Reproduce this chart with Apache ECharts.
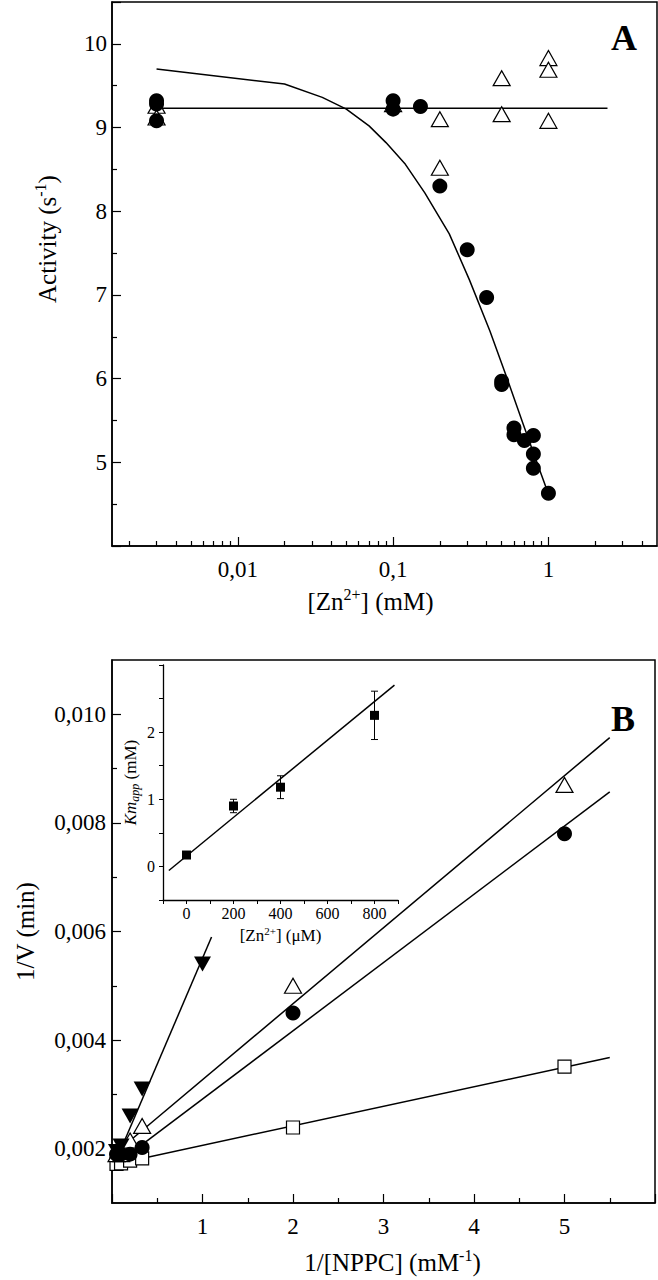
<!DOCTYPE html>
<html>
<head>
<meta charset="utf-8">
<script src="https://cdn.jsdelivr.net/npm/echarts@6/dist/echarts.min.js"></script>
<style>
  html, body { margin: 0; padding: 0; background: #fff; }
  #chart { width: 658px; height: 1280px; }
</style>
</head>
<body>
<div id="chart"></div>
<script>
  // ---- panel A : activity vs [Zn2+] (log x) ----
  var aCircles = [
    [0.003, 9.32], [0.003, 9.28], [0.003, 9.08], [0.1, 9.32], [0.1, 9.22], [0.15, 9.25],
    [0.2, 8.30], [0.3, 7.54], [0.4, 6.97], [0.5, 5.97], [0.5, 5.93], [0.6, 5.41], [0.6, 5.33],
    [0.7, 5.26], [0.8, 5.32], [0.8, 5.10], [0.8, 4.93], [1.0, 4.63]
  ]
  var aTriangles = [
    [0.003, 9.26], [0.003, 9.12], [0.1, 9.28], [0.2, 9.10], [0.2, 8.52],
    [0.5, 9.59], [0.5, 9.16], [1.0, 9.83], [1.0, 9.69], [1.0, 9.08]
  ]
  var aFlatFit = [[0.003, 9.23], [2.4, 9.23]]
  var aCurveFit = [
    [0.003, 9.70], [0.02, 9.52], [0.035, 9.36], [0.05, 9.22], [0.07, 9.02], [0.09, 8.82],
    [0.12, 8.56], [0.16, 8.22], [0.23, 7.73], [0.31, 7.18], [0.42, 6.57], [0.54, 6.01],
    [0.69, 5.45], [0.85, 4.98], [1.0, 4.62]
  ]
  var aXLabels = [0.01, 0.1, 1]
  var aXMinor = [0.002, 0.003, 0.004, 0.005, 0.006, 0.007, 0.008, 0.009,
    0.02, 0.03, 0.04, 0.05, 0.06, 0.07, 0.08, 0.09,
    0.2, 0.3, 0.4, 0.5, 0.6, 0.7, 0.8, 0.9, 2, 3, 4]

  // ---- panel B : Lineweaver-Burk ----
  var bSquares = [[0.05, 0.00172], [0.1, 0.00173], [0.2, 0.00178], [0.333, 0.00182], [2, 0.00239], [5, 0.00351]]
  var bCircles = [[0.05, 0.0019], [0.1, 0.0019], [0.2, 0.0019], [0.333, 0.00202], [2, 0.0045], [5, 0.0078]]
  var bTriangles = [[0.05, 0.0019], [0.1, 0.0019], [0.2, 0.00215], [0.333, 0.00242], [2, 0.0050], [5, 0.0087]]
  var bDownTri = [[0.05, 0.00195], [0.1, 0.00205], [0.2, 0.0026], [0.333, 0.0031], [1, 0.0054]]
  var bSquareFit = [[0.05, 0.00172], [5.5, 0.00368]]
  var bCircleFit = [[0.05, 0.00172], [5.5, 0.00857]]
  var bTriangleFit = [[0.05, 0.00194], [5.5, 0.00957]]
  var bDownTriFit = [[0.05, 0.0018], [1.1, 0.0059]]
  var bYLabels = [0.002, 0.004, 0.006, 0.008, 0.010]
  var bYMinor = [0.003, 0.005, 0.007, 0.009]

  // ---- inset : Km app vs [Zn2+] ----
  var kmZn = [0, 200, 400, 800]
  var kmVal = [0.17, 0.90, 1.18, 2.25]
  var kmErr = [0.03, 0.10, 0.17, 0.36]
  var kmFit = [[-75, -0.06], [885, 2.70]]

  var FONT = '"Liberation Serif", "Times New Roman", serif'
  var black = '#000'

  function comma (v) {
    return String(v).replace('.', ',')
  }

  var chart = echarts.init(document.getElementById('chart'), null, {renderer: 'svg'})

  var kmPoints = kmZn.map(function (z, i) { return [z, kmVal[i]] })
  var kmBars = kmZn.map(function (z, i) { return [z, kmVal[i] - kmErr[i], kmVal[i] + kmErr[i]] })

  var supRich = {
    sup: {fontFamily: FONT, fontSize: 16, color: black, verticalAlign: 'top', lineHeight: 30}
  }

  function lineSeries (data, xi, yi) {
    return {
      type: 'line', data: data, xAxisIndex: xi, yAxisIndex: yi,
      symbol: 'none', z: 2, silent: true,
      lineStyle: {color: black, width: 1.5}
    }
  }
  function dotSeries (data, xi, yi, symbol, size, open, rotate) {
    return {
      type: 'scatter', data: data, xAxisIndex: xi, yAxisIndex: yi,
      symbol: symbol, symbolSize: size, symbolRotate: rotate || 0, z: open ? 4 : 5,
      itemStyle: {color: open ? '#fff' : black, borderColor: black, borderWidth: open ? 1.2 : 0, opacity: 1}
    }
  }

  chart.setOption({
    animation: false,
    backgroundColor: '#fff',
    grid: [
      {left: 112, top: 2, width: 545, height: 544, show: true, borderColor: black, borderWidth: 1.5, backgroundColor: 'transparent'},
      {left: 112, top: 660, width: 545, height: 543, show: true, borderColor: black, borderWidth: 1.5, backgroundColor: 'transparent'},
      {left: 163, top: 665, width: 235, height: 235, show: false}
    ],
    xAxis: [
      // A main
      {
        type: 'log', logBase: 10, gridIndex: 0, min: 0.00155, max: 5, position: 'bottom',
        name: '[Zn{sup|2+}] (mM)', nameLocation: 'middle', nameGap: 40,
        nameTextStyle: {fontFamily: FONT, fontSize: 25, color: black, rich: supRich, padding: [0, 28, 0, 0]},
        axisLine: {onZero: false, lineStyle: {color: black, width: 1.5}},
        axisTick: {inside: true, length: 9, customValues: aXLabels, lineStyle: {color: black, width: 1.2}},
        axisLabel: {customValues: aXLabels, formatter: comma, margin: 12, fontFamily: FONT, fontSize: 23, color: black},
        splitLine: {show: false}, minorTick: {show: false}
      },
      // A minor ticks
      {
        type: 'log', logBase: 10, gridIndex: 0, min: 0.00155, max: 5, position: 'bottom',
        axisLine: {show: false, onZero: false},
        axisTick: {inside: true, length: 5, customValues: aXMinor, lineStyle: {color: black, width: 1.2}},
        axisLabel: {show: false}, splitLine: {show: false}
      },
      // B
      {
        type: 'value', gridIndex: 1, min: 0, max: 6, interval: 1, position: 'bottom',
        name: '1/[NPPC] (mM{sup|-1})', nameLocation: 'middle', nameGap: 44,
        nameTextStyle: {fontFamily: FONT, fontSize: 25, color: black, rich: supRich, padding: [0, 0, 0, 18]},
        axisLine: {onZero: false, lineStyle: {color: black, width: 1.5}},
        axisTick: {inside: true, length: 9, lineStyle: {color: black, width: 1.2}},
        minorTick: {show: true, splitNumber: 2, length: 5, lineStyle: {color: black, width: 1.2}},
        axisLabel: {
          margin: 12, fontFamily: FONT, fontSize: 23, color: black,
          formatter: function (v) { return (v === 0 || v === 6) ? '' : String(v) }
        },
        splitLine: {show: false}
      },
      // inset
      {
        type: 'value', gridIndex: 2, min: -100, max: 900, interval: 100, position: 'bottom',
        name: '[Zn{sup|2+}] (\u03bcM)', nameLocation: 'middle', nameGap: 25,
        nameTextStyle: {fontFamily: FONT, fontSize: 17, color: black,
          rich: {sup: {fontFamily: FONT, fontSize: 11, color: black, verticalAlign: 'top', lineHeight: 20}}},
        axisLine: {onZero: false, lineStyle: {color: black, width: 1.3}},
        axisTick: {inside: false, length: 4, lineStyle: {color: black, width: 1}},
        axisLabel: {
          margin: 5, fontFamily: FONT, fontSize: 16, color: black,
          formatter: function (v) { return (v >= 0 && v <= 800 && v % 200 === 0) ? String(v) : '' }
        },
        splitLine: {show: false}
      }
    ],
    yAxis: [
      // A
      {
        type: 'value', gridIndex: 0, min: 4, max: 10.5, interval: 1,
        name: 'Activity (s{sup|-1})', nameLocation: 'middle', nameGap: 50,
        nameTextStyle: {fontFamily: FONT, fontSize: 25, color: black, rich: supRich, padding: [0, 0, 0, 70]},
        axisLine: {onZero: false, lineStyle: {color: black, width: 1.5}},
        axisTick: {inside: true, length: 9, lineStyle: {color: black, width: 1.2}},
        minorTick: {show: true, splitNumber: 2, length: 5, lineStyle: {color: black, width: 1.2}},
        axisLabel: {
          margin: 5, fontFamily: FONT, fontSize: 23, color: black,
          formatter: function (v) { return (v >= 5 && v <= 10 && v % 1 === 0) ? String(v) : '' }
        },
        splitLine: {show: false}
      },
      // B main
      {
        type: 'value', gridIndex: 1, min: 0.001, max: 0.011,
        name: '1/V (min)', nameLocation: 'middle', nameGap: 74,
        nameTextStyle: {fontFamily: FONT, fontSize: 25, color: black},
        axisLine: {onZero: false, lineStyle: {color: black, width: 1.5}},
        axisTick: {inside: true, length: 9, customValues: bYLabels, lineStyle: {color: black, width: 1.2}},
        axisLabel: {
          customValues: bYLabels, margin: 6, fontFamily: FONT, fontSize: 23, color: black,
          formatter: function (v) { return v.toFixed(3).replace('.', ',') }
        },
        splitLine: {show: false}
      },
      // B minor ticks
      {
        type: 'value', gridIndex: 1, min: 0.001, max: 0.011, position: 'left',
        axisLine: {show: false, onZero: false},
        axisTick: {inside: true, length: 5, customValues: bYMinor, lineStyle: {color: black, width: 1.2}},
        axisLabel: {show: false}, splitLine: {show: false}
      },
      // inset
      {
        type: 'value', gridIndex: 2, min: -0.5, max: 3, interval: 0.5,
        name: '{it|Km}{sub|app} (mM)', nameLocation: 'middle', nameGap: 22,
        nameTextStyle: {fontFamily: FONT, fontSize: 17, color: black,
          rich: {
            it: {fontFamily: FONT, fontSize: 17, fontStyle: 'italic', color: black},
            sub: {fontFamily: FONT, fontSize: 12, fontStyle: 'italic', color: black, verticalAlign: 'bottom', lineHeight: 22}
          }},
        axisLine: {onZero: false, lineStyle: {color: black, width: 1.3}},
        axisTick: {inside: false, length: 4, lineStyle: {color: black, width: 1}},
        axisLabel: {
          margin: 8, fontFamily: FONT, fontSize: 16, color: black,
          formatter: function (v) { return (v >= 0 && v <= 2 && v % 1 === 0) ? String(v) : '' }
        },
        splitLine: {show: false}
      }
    ],
    graphic: [
      {type: 'text', left: 611, top: 20, style: {text: 'A', font: 'bold 36px "Liberation Serif"', fill: black}},
      {type: 'text', left: 611, top: 701, style: {text: 'B', font: 'bold 36px "Liberation Serif"', fill: black}}
    ],
    series: [
      // panel A
      lineSeries(aFlatFit, 0, 0),
      lineSeries(aCurveFit, 0, 0),
      dotSeries(aTriangles, 0, 0, 'triangle', [17, 15], true),
      dotSeries(aCircles, 0, 0, 'circle', 15, false),
      // panel B
      lineSeries(bSquareFit, 2, 1),
      lineSeries(bCircleFit, 2, 1),
      lineSeries(bTriangleFit, 2, 1),
      lineSeries(bDownTriFit, 2, 1),
      dotSeries(bSquares, 2, 1, 'rect', 13, true),
      dotSeries(bTriangles, 2, 1, 'triangle', [17, 15], true),
      dotSeries(bCircles, 2, 1, 'circle', 15, false),
      dotSeries(bDownTri, 2, 1, 'triangle', [17, 15], false, 180),
      // inset
      lineSeries(kmFit, 3, 3),
      {
        type: 'custom', xAxisIndex: 3, yAxisIndex: 3, data: kmBars, z: 3, silent: true,
        encode: {x: 0, y: [1, 2]},
        renderItem: function (params, api) {
          var lo = api.coord([api.value(0), api.value(1)])
          var hi = api.coord([api.value(0), api.value(2)])
          var cap = 3.5
          var st = {stroke: black, lineWidth: 1}
          return {
            type: 'group',
            children: [
              {type: 'line', shape: {x1: lo[0], y1: lo[1], x2: hi[0], y2: hi[1]}, style: st},
              {type: 'line', shape: {x1: lo[0] - cap, y1: lo[1], x2: lo[0] + cap, y2: lo[1]}, style: st},
              {type: 'line', shape: {x1: hi[0] - cap, y1: hi[1], x2: hi[0] + cap, y2: hi[1]}, style: st}
            ]
          }
        }
      },
      dotSeries(kmPoints, 3, 3, 'rect', 9, false)
    ]
  })
</script>
</body>
</html>
